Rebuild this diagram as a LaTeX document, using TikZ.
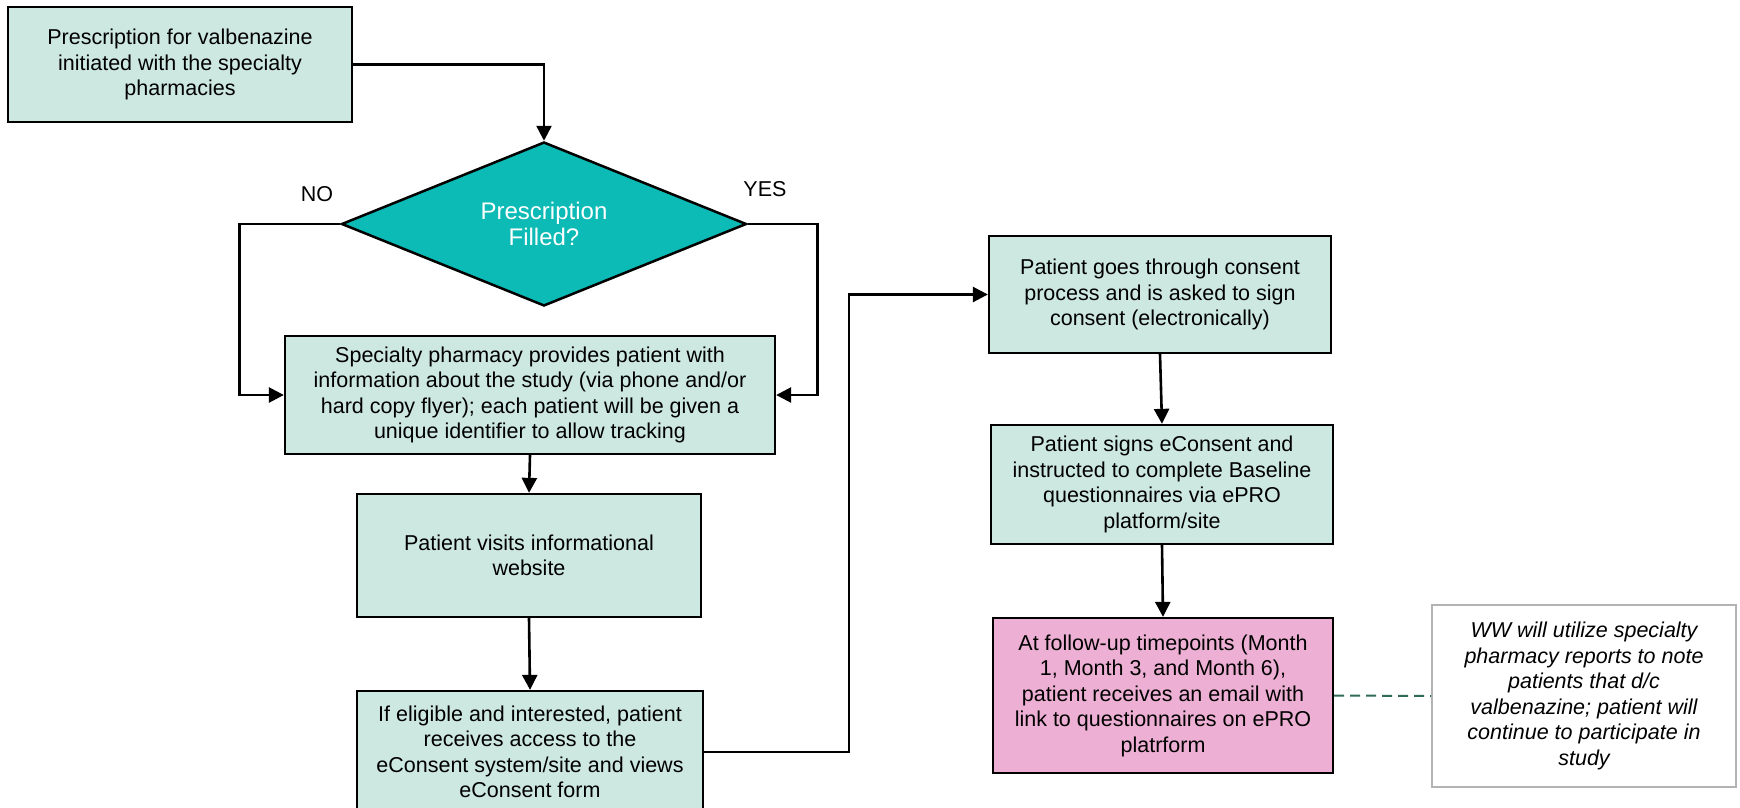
\documentclass[tikz,border=0pt]{standalone}
\usepackage{fontspec}
\setmainfont{Liberation Sans}
\usetikzlibrary{shapes.geometric,arrows.meta}
\definecolor{mint}{HTML}{CDE8E0}
\definecolor{tealdia}{HTML}{0CBAB6}
\definecolor{pinkbox}{HTML}{EDAFD3}
\definecolor{dashgreen}{HTML}{2F6B57}
\definecolor{notegray}{HTML}{B3B3B3}
\tikzset{
  stepbox/.style={draw=black, fill=mint, line width=2.3pt, align=center, inner sep=0pt,
    font=\fontsize{21.5}{25.5}\selectfont},
  decision/.style={diamond, draw=black, fill=tealdia, line width=2.5pt, align=center, inner sep=0pt,
    text=white, font=\fontsize{24}{25.5}\selectfont},
  notebox/.style={draw=notegray, fill=white, line width=1.8pt, align=center, inner sep=0pt,
    font=\fontsize{21.5}{25.5}\selectfont\itshape},
  lbl/.style={font=\fontsize{21.5}{25.5}\selectfont, inner sep=0pt},
  flow/.style={line width=2.6pt, -{Triangle[length=15pt,width=15pt]}},
  plain/.style={line width=2.6pt}
}
\begin{document}
\begin{tikzpicture}[x=1pt,y=-1pt]
\clip (0,0) rectangle (1740,807);
\fill[white] (0,0) rectangle (1740,807);

\node[stepbox, minimum width=344, minimum height=115] (b1) at (180,64.5)
  {Prescription for valbenazine\\initiated with the specialty\\pharmacies};
\node[decision, minimum width=405, minimum height=164, aspect=2.47] (d) at (544,224)
  {Prescription\\Filled?};
\node[stepbox, minimum width=490, minimum height=118] (b2) at (530,395)
  {Specialty pharmacy provides patient with\\information about the study (via phone and/or\\hard copy flyer); each patient will be given a\\unique identifier to allow tracking};
\node[stepbox, minimum width=344, minimum height=123] (b3) at (529,555.5)
  {Patient visits informational\\website};
\node[stepbox, minimum width=346, minimum height=122] (b4) at (530,752)
  {If eligible and interested, patient\\receives access to the\\eConsent system/site and views\\eConsent form};
\node[stepbox, minimum width=342, minimum height=117] (b5) at (1160,294.5)
  {Patient goes through consent\\process and is asked to sign\\consent (electronically)};
\node[stepbox, minimum width=342, minimum height=119] (b6) at (1162,484.5)
  {Patient signs eConsent and\\instructed to complete Baseline\\questionnaires via ePRO\\platform/site};
\node[stepbox, fill=pinkbox, minimum width=340, minimum height=155] (b7) at (1163,695.5)
  {At follow-up timepoints (Month\\1, Month 3, and Month 6),\\patient receives an email with\\link to questionnaires on ePRO\\platrform};
\node[notebox, minimum width=304, minimum height=182] (n) at (1584,696)
  {WW will utilize specialty\\pharmacy reports to note\\patients that d/c\\valbenazine; patient will\\continue to participate in\\study};

\node[lbl] (no) at (317,194) {NO};
\node[lbl] (yes) at (765,189) {YES};

\draw[flow] (b1.east) -| (d.north);
\draw[flow] (d.west) -- ++(-101,0) |- (b2.west);
\draw[flow] (d.east) -- ++(70,0) |- (b2.east);
\draw[flow] (b2.south) -- (b3.north);
\draw[flow] (b3.south) -- (b4.north);
\draw[flow] (b4.east) -- ++(145,0) |- (b5.west);
\draw[flow] (b5.south) -- (b6.north);
\draw[flow] (b6.south) -- (b7.north);
\draw[line width=2pt, dashgreen, dash pattern=on 10pt off 6pt] (b7.east) -- (n.west);
\end{tikzpicture}
\end{document}
